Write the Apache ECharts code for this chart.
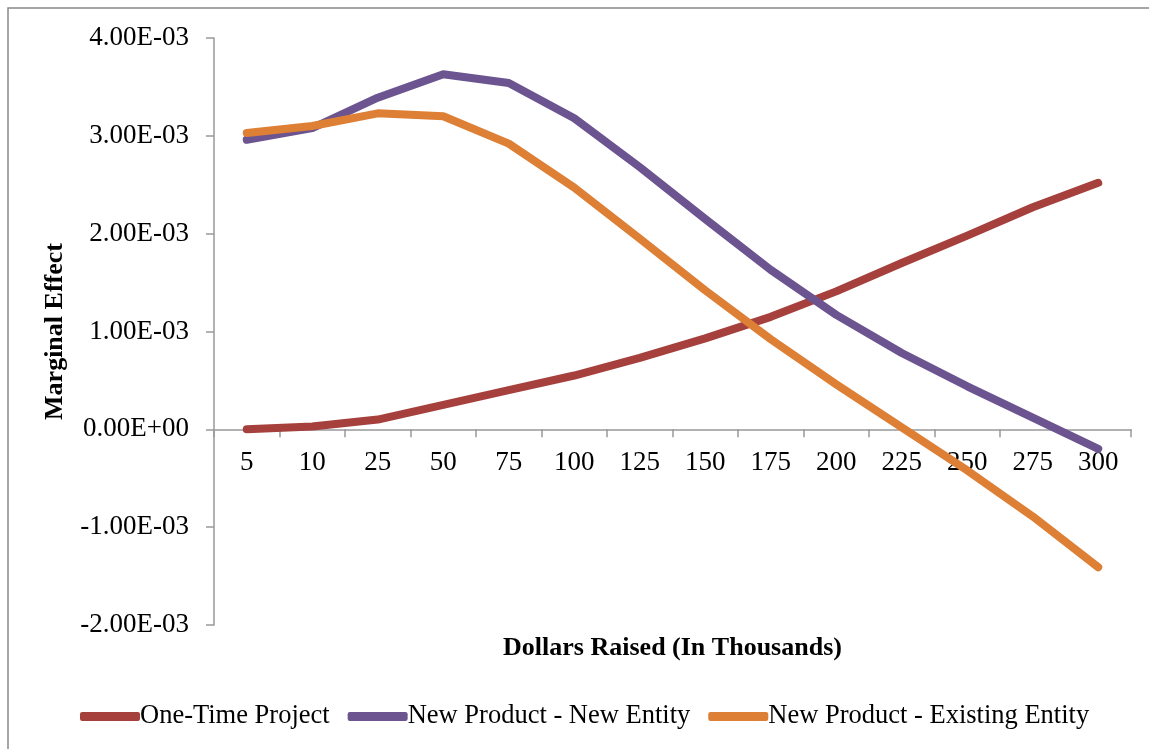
<!DOCTYPE html>
<html>
<head>
<meta charset="utf-8">
<script src="https://cdn.jsdelivr.net/npm/echarts@6/dist/echarts.min.js"></script>
<style>html,body{margin:0;padding:0;background:#fff}#c{width:1149px;height:749px}</style>
</head>
<body>
<div id="c"></div>
<script>
const categories = ['5','10','25','50','75','100','125','150','175','200','225','250','275','300'];
const oneTimeProject = [0.0, 0.00003, 0.0001, 0.00025, 0.0004, 0.00055, 0.00073, 0.00093, 0.00115, 0.00141, 0.0017, 0.00198, 0.00227, 0.00252];
const newProductNewEntity = [0.00296, 0.00308, 0.00339, 0.00363, 0.00354, 0.00318, 0.00268, 0.00215, 0.00163, 0.00117, 0.00078, 0.00044, 0.00012, -0.0002];
const newProductExistingEntity = [0.00303, 0.0031, 0.00323, 0.0032, 0.00292, 0.00247, 0.00195, 0.00142, 0.00092, 0.00046, 0.00002, -0.00042, -0.00089, -0.00141];
const seriesNames = ['One-Time Project', 'New Product - New Entity', 'New Product - Existing Entity'];
const colors = ['#A5403D', '#6B548F', '#DD7F35'];

function sci(v) {
  if (Math.abs(v) < 1e-12) return '0.00E+00';
  let e = Math.floor(Math.log10(Math.abs(v)) + 1e-9);
  let m = v / Math.pow(10, e);
  let s = m.toFixed(2);
  let es = (e < 0 ? '-' : '+') + String(Math.abs(e)).padStart(2, '0');
  return s + 'E' + es;
}

const serif = 'Liberation Serif';
const Y_MIN = -0.002, Y_MAX = 0.004;
const GRID_TOP = 38, GRID_BOTTOM = 124, H = 749;
// x axis sits at value 0: offset it up from the grid bottom
const plotH = H - GRID_TOP - GRID_BOTTOM;
const zeroOffset = -plotH * (0 - Y_MIN) / (Y_MAX - Y_MIN);

const chart = echarts.init(document.getElementById('c'));
const data = [oneTimeProject, newProductNewEntity, newProductExistingEntity];
chart.setOption({
  animation: false,
  color: colors,
  graphic: [{
    type: 'rect', position: [8, 8], silent: true,
    shape: { x: 0, y: 0, width: 1400, height: 1000 },
    style: { fill: 'none', stroke: '#888', lineWidth: 1.5 }
  }],
  grid: { left: 214, right: 18, top: GRID_TOP, bottom: GRID_BOTTOM, outerBoundsMode: 'none', containLabel: false },
  legend: {
    top: 698, left: 75,
    icon: 'roundRect', itemWidth: 60, itemHeight: 9, itemGap: 18,
    textStyle: { fontFamily: serif, fontSize: 26.5, color: '#000', padding: [0, 0, 0, -5] },
    data: seriesNames
  },
  xAxis: {
    type: 'category', data: categories, boundaryGap: true,
    offset: zeroOffset,
    name: 'Dollars Raised (In Thousands)', nameLocation: 'middle', nameGap: 206,
    nameTextStyle: { fontFamily: serif, fontSize: 26, fontWeight: 'bold', color: '#000' },
    axisLine: { onZero: false, lineStyle: { color: '#999', width: 1.5 } },
    axisTick: { show: true, length: 8, inside: false, lineStyle: { color: '#999', width: 1.5 } },
    axisLabel: { fontFamily: serif, fontSize: 27, color: '#000', margin: 20 },
    splitLine: { show: false }
  },
  yAxis: {
    type: 'value', min: Y_MIN, max: Y_MAX, interval: 0.001,
    name: 'Marginal Effect', nameLocation: 'middle', nameGap: 146, nameRotate: 90,
    nameTextStyle: { fontFamily: serif, fontSize: 26, fontWeight: 'bold', color: '#000' },
    axisLine: { show: true, lineStyle: { color: '#999', width: 1.5 } },
    axisTick: { show: true, length: 8, lineStyle: { color: '#999', width: 1.5 } },
    axisLabel: { fontFamily: serif, fontSize: 27, color: '#000', margin: 25, formatter: sci },
    splitLine: { show: false }
  },
  series: seriesNames.map((n, i) => ({
    name: n, type: 'line', data: data[i], showSymbol: false, symbol: 'none',
    smooth: false,
    lineStyle: { width: 8, color: colors[i], cap: 'round', join: 'round' },
    itemStyle: { color: colors[i] }
  }))
});
</script>
</body>
</html>
